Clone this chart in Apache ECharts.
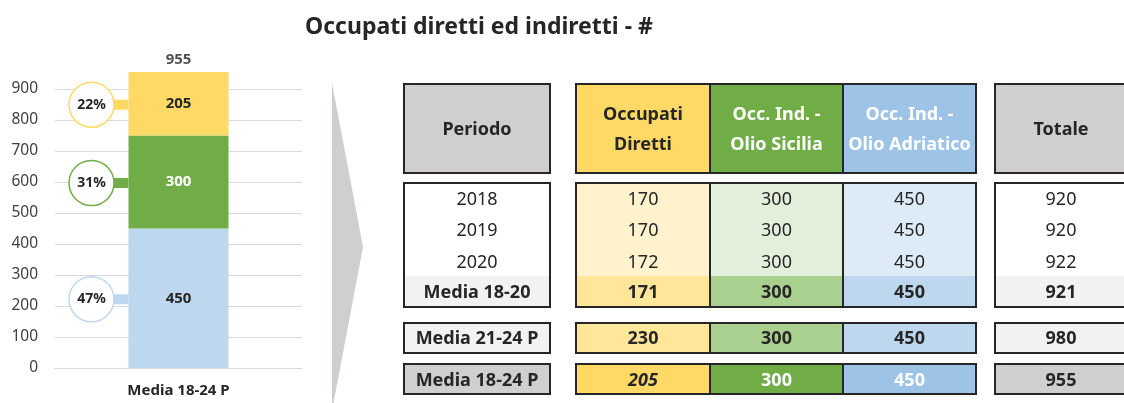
<!DOCTYPE html>
<html>
<head>
<meta charset="utf-8">
<script src="https://cdn.jsdelivr.net/npm/echarts@6/dist/echarts.min.js"></script>
<style>
  html, body { margin: 0; padding: 0; background: #ffffff; }
  #chart { width: 1124px; height: 403px; }
</style>
</head>
<body>
<div id="chart"></div>
<script>
// ---------------- DATA ----------------
const titleText = 'Occupati diretti ed indiretti - #';
const headerLabels = ['Periodo', 'Occupati\nDiretti', 'Occ. Ind. -\nOlio Sicilia', 'Occ. Ind. -\nOlio Adriatico', 'Totale'];
const periods = ['2018', '2019', '2020', 'Media 18-20', 'Media 21-24 P', 'Media 18-24 P'];
const occDiretti = [170, 170, 172, 171, 230, 205];
const occSicilia = [300, 300, 300, 300, 300, 300];
const occAdriatico = [450, 450, 450, 450, 450, 450];
const totale = [920, 920, 922, 921, 980, 955];

const chartCategories = ['Media 18-24 P'];
const seriesNames = ['Occ. Ind. - Olio Adriatico', 'Occ. Ind. - Olio Sicilia', 'Occupati Diretti'];
const adriaticoValues = [450];
const siciliaValues = [300];
const direttiValues = [205];
const totalValues = [955];
const shareLabels = ['47%', '31%', '22%']; // Adriatico, Sicilia, Diretti
const yAxisMin = 0;
const yAxisMax = 900;
const yAxisStep = 100;

// ---------------- STYLE / LAYOUT ----------------
const FONT = 'Noto Sans';
const DARK = '#262626';
const barColors = ['#BDD7EE', '#70AD47', '#FFD966'];
const barLabelColors = [DARK, '#FFFFFF', DARK];

const colX = [[404, 550], [576, 710], [710, 843], [843, 976], [995, 1127]];
const groups = [[0, 0], [1, 3], [4, 4]];
const headerY = [84, 173];
const rowY = [[183, 214], [214, 245], [245, 276], [276, 307], [323, 353], [364, 394]];
const textY = [200, 231, 263, 292.5, 339, 380.5];
const blocks = [[183, 307], [323, 353], [364, 394]];
const rowKind = ['year', 'year', 'year', 'avg', 'avg', 'total'];
const fills = {
  header: ['#D0CECE', '#FFD966', '#70AD47', '#9DC3E6', '#D0CECE'],
  year:   ['#FFFFFF', '#FFF2CC', '#E2EFDA', '#DDEBF7', '#FFFFFF'],
  avg:    ['#F2F2F2', '#FFE699', '#A9D08E', '#BDD7EE', '#F2F2F2'],
  total:  ['#D0CECE', '#FFD966', '#70AD47', '#9DC3E6', '#D0CECE']
};
const textColors = {
  header: [DARK, DARK, '#FFFFFF', '#FFFFFF', DARK],
  year:   [DARK, DARK, DARK, DARK, DARK],
  avg:    [DARK, DARK, DARK, DARK, DARK],
  total:  [DARK, DARK, '#FFFFFF', '#FFFFFF', DARK]
};

// ---------------- TABLE (graphic built from arrays) ----------------
const graphics = [];
// arrow
graphics.push({
  type: 'polygon', silent: true, z: 1,
  shape: { points: [[332, 83], [363, 247], [332, 411]] },
  style: { fill: '#D0CECE' }
});
function txt(text, x, y, color, bold, italic, size) {
  graphics.push({
    type: 'text', z: 10, silent: true,
    style: {
      text: String(text), x: x, y: y, fill: color,
      fontFamily: FONT, fontSize: size, fontWeight: bold ? 'bold' : 'normal',
      fontStyle: italic ? 'italic' : 'normal',
      align: 'center', verticalAlign: 'middle', lineHeight: 30
    }
  });
}
function rect(x0, y0, x1, y1, fill) {
  graphics.push({ type: 'rect', z: 5, silent: true, shape: { x: x0, y: y0, width: x1 - x0, height: y1 - y0 }, style: { fill: fill } });
}
function outline(x0, y0, x1, y1) {
  graphics.push({ type: 'rect', z: 8, silent: true, shape: { x: x0, y: y0, width: x1 - x0, height: y1 - y0 }, style: { fill: 'none', stroke: DARK, lineWidth: 2 } });
}
function vline(x, y0, y1) {
  graphics.push({ type: 'line', z: 8, silent: true, shape: { x1: x, y1: y0, x2: x, y2: y1 }, style: { stroke: DARK, lineWidth: 2 } });
}
// header
headerLabels.forEach((h, c) => {
  rect(colX[c][0], headerY[0], colX[c][1], headerY[1], fills.header[c]);
  txt(h, (colX[c][0] + colX[c][1]) / 2, (headerY[0] + headerY[1]) / 2 + 1, textColors.header[c], true, false, 18);
});
// rows
const columnsData = [periods, occDiretti, occSicilia, occAdriatico, totale];
periods.forEach((p, r) => {
  const kind = rowKind[r];
  columnsData.forEach((col, c) => {
    rect(colX[c][0], rowY[r][0], colX[c][1], rowY[r][1], fills[kind][c]);
    const bold = kind !== 'year';
    const italic = kind === 'total' && c === 1;
    txt(col[r], (colX[c][0] + colX[c][1]) / 2, textY[r], textColors[kind][c], bold, italic, 18);
  });
});
// outlines
[headerY].concat(blocks).forEach(b => {
  groups.forEach(g => {
    outline(colX[g[0]][0], b[0], colX[g[1]][1], b[1]);
  });
  vline(colX[2][0], b[0], b[1]);
  vline(colX[3][0], b[0], b[1]);
});

// ---------------- CHART ----------------
const stackValues = [adriaticoValues, siciliaValues, direttiValues];
const calloutData = [];
let cum = 0;
stackValues.forEach((vals, i) => {
  calloutData.push([0, cum + vals[0] / 2, i]);
  cum += vals[0];
});
const BAR_W = 100;

const chart = echarts.init(document.getElementById('chart'), null, { renderer: 'canvas' });
chart.setOption({
  animation: false,
  backgroundColor: '#FFFFFF',
  textStyle: { fontFamily: FONT },
  title: {
    text: titleText, left: 300, top: 11,
    textStyle: { fontFamily: FONT, fontSize: 23, fontWeight: 'bold', color: DARK }
  },
  grid: { left: 55, right: 822, top: 89, bottom: 35, containLabel: false },
  xAxis: {
    type: 'category', data: chartCategories,
    axisLine: { show: true, lineStyle: { color: '#D9D9D9', width: 1 } },
    axisTick: { show: false },
    axisLabel: { fontFamily: FONT, fontSize: 15, fontWeight: 'bold', color: DARK, margin: 15 }
  },
  yAxis: {
    type: 'value', min: yAxisMin, max: yAxisMax, interval: yAxisStep,
    axisLine: { show: false }, axisTick: { show: false },
    axisLabel: { fontFamily: FONT, fontSize: 15.5, color: '#404040', margin: 17 },
    splitLine: { lineStyle: { color: '#D9D9D9', width: 1 } }
  },
  series: stackValues.map((vals, i) => ({
    type: 'bar', name: seriesNames[i], stack: 'tot', data: vals, barWidth: BAR_W, clip: false,
    itemStyle: { color: barColors[i] },
    label: { show: true, position: 'inside', fontFamily: FONT, fontSize: 15, fontWeight: 'bold', color: barLabelColors[i] }
  })).concat([
    {
      type: 'scatter', name: 'Totale', data: totalValues, symbolSize: 0, clip: false, z: 5,
      label: { show: true, position: 'top', distance: 5, fontFamily: FONT, fontSize: 15, fontWeight: 'bold', color: DARK }
    },
    {
      type: 'custom', name: 'quote', data: calloutData, clip: false, z: 6,
      renderItem: function (params, api) {
        const pt = api.coord([api.value(0), api.value(1)]);
        const idx = api.value(2);
        const cx = pt[0] - BAR_W / 2 - 37;
        const cy = pt[1] + 1;
        const r = 22.5;
        return {
          type: 'group',
          children: [
            { type: 'rect', shape: { x: cx + r - 2, y: cy - 5, width: pt[0] - BAR_W / 2 - (cx + r - 2), height: 10 }, style: { fill: barColors[idx] } },
            { type: 'circle', shape: { cx: cx, cy: cy, r: r }, style: { fill: '#FFFFFF', stroke: barColors[idx], lineWidth: 1.5 } },
            { type: 'text', style: { text: shareLabels[idx], x: cx, y: cy, align: 'center', verticalAlign: 'middle', fontFamily: FONT, fontSize: 14, fontWeight: 'bold', fill: DARK } }
          ]
        };
      }
    }
  ]),
  graphic: graphics
});
</script>
</body>
</html>
